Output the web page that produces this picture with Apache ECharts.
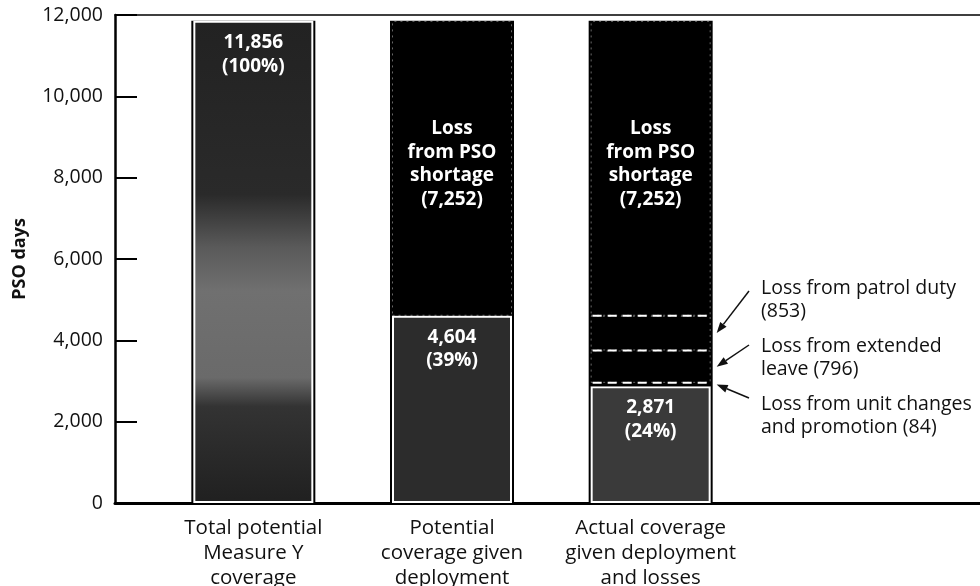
<!DOCTYPE html>
<html><head><meta charset="utf-8">
<script src="https://cdn.jsdelivr.net/npm/echarts@6/dist/echarts.min.js"></script>
<style>html,body{margin:0;padding:0;background:#fff}#c{width:980px;height:586px}</style>
</head><body><div id="c"></div>
<script>
// ---- data ----
const categories = ['Total potential\nMeasure Y\ncoverage', 'Potential\ncoverage given\ndeployment', 'Actual coverage\ngiven deployment\nand losses'];
const coverage = [11856, 4604, 2871];
const lossUnitChanges = [0, 0, 84];
const lossExtendedLeave = [0, 0, 796];
const lossPatrolDuty = [0, 0, 853];
const lossShortage = [0, 7252, 7252];
const yMin = 0, yMax = 12000, yInterval = 2000;
const yName = 'PSO days';
const annotationTexts = ['Loss from patrol duty\n(853)', 'Loss from extended\nleave (796)', 'Loss from unit changes\nand promotion (84)'];

// ---- helpers ----
const FONT = '"Open Sans", "Noto Sans", sans-serif';
const fmt = v => v.toLocaleString('en-US');
const nz = arr => arr.map(v => v === 0 ? '-' : v);
const smallLosses = [lossUnitChanges, lossExtendedLeave, lossPatrolDuty];
const totals = coverage.map((v, i) => v + lossUnitChanges[i] + lossExtendedLeave[i] + lossPatrolDuty[i] + lossShortage[i]);
const grand = totals[0];

// boundaries (tops of the small loss segments) -> dashed separators
const boundaries = [];
coverage.forEach((v, i) => {
  let cum = v;
  smallLosses.forEach(arr => { if (arr[i] > 0) { cum += arr[i]; boundaries.push([i, cum]); } });
});

const chart = echarts.init(document.getElementById('c'), null, {renderer: 'canvas'});

const gridRect = {top: 15, bottom: 83};
const barW = 120, frameW = 124;

const bar1Fill = new echarts.graphic.LinearGradient(0, 0, 0, 1, [
  {offset: 0, color: '#222'}, {offset: 0.36, color: '#2a2a2a'}, {offset: 0.47, color: '#5a5a5a'},
  {offset: 0.56, color: '#707070'}, {offset: 0.74, color: '#6a6a6a'}, {offset: 0.8, color: '#333'},
  {offset: 1, color: '#202020'}
]);
const coverFills = [bar1Fill, '#2c2c2c', '#3a3a3a'];

const lossStyle = {color: '#000', borderColor: 'rgba(255,255,255,0.4)', borderWidth: 1, borderType: [2, 4]};

chart.setOption({
  animation: false,
  backgroundColor: '#fff',
  grid: [
    {left: 115, right: 0, top: gridRect.top, bottom: gridRect.bottom, outerBoundsMode: 'none', containLabel: false},
    {left: 154, width: 596, top: gridRect.top, bottom: gridRect.bottom, outerBoundsMode: 'none', containLabel: false},
    {left: 154, width: 596, top: gridRect.top, bottom: gridRect.bottom, outerBoundsMode: 'none', containLabel: false}
  ],
  xAxis: [
    {gridIndex: 0, type: 'category', data: [''], position: 'bottom',
     axisLine: {lineStyle: {color: '#000', width: 3}}, axisTick: {show: false}, axisLabel: {show: false}},
    {gridIndex: 1, type: 'category', data: categories,
     axisLine: {show: false}, axisTick: {show: false},
     axisLabel: {interval: 0, hideOverlap: false, margin: 13, fontFamily: FONT, fontSize: 20.5, color: '#111', lineHeight: 25}},
    {gridIndex: 2, type: 'category', data: categories, show: false},
    {gridIndex: 0, type: 'category', data: [''], position: 'top',
     axisLine: {lineStyle: {color: '#000', width: 1.5}}, axisTick: {show: false}, axisLabel: {show: false}}
  ],
  yAxis: [
    {gridIndex: 0, type: 'value', min: yMin, max: yMax, interval: yInterval,
     name: yName, nameLocation: 'middle', nameGap: 86, nameRotate: 90,
     nameTextStyle: {fontFamily: FONT, fontSize: 18, fontWeight: 'bold', color: '#111'},
     axisLine: {show: true, lineStyle: {color: '#000', width: 2.5}},
     axisTick: {show: true, inside: true, length: 22, lineStyle: {color: '#000', width: 2}},
     axisLabel: {margin: 12, fontFamily: FONT, fontSize: 19.5, color: '#111', formatter: v => fmt(v)},
     splitLine: {show: false}},
    {gridIndex: 1, type: 'value', min: yMin, max: yMax, interval: yInterval, show: false, splitLine: {show: false}},
    {gridIndex: 2, type: 'value', min: yMin, max: yMax, interval: yInterval, show: false, splitLine: {show: false}}
  ],
  series: [
    {name: 'frame', type: 'bar', xAxisIndex: 2, yAxisIndex: 2, z: 1, barWidth: frameW,
     data: totals, itemStyle: {color: '#000'}, silent: true},
    {name: 'coverage', type: 'bar', stack: 's', xAxisIndex: 1, yAxisIndex: 1, barWidth: barW, z: 3,
     data: coverage.map((v, i) => ({value: v, itemStyle: {color: coverFills[i]}})),
     itemStyle: {borderColor: '#fff', borderWidth: 2},
     label: {show: true, position: 'insideTop', distance: 10, color: '#fff', fontFamily: FONT, fontSize: 19,
       fontWeight: 'bold', lineHeight: 23.5,
       formatter: p => fmt(p.value) + '\n(' + Math.round(p.value / grand * 100) + '%)'}},
    {name: 'unit', type: 'bar', stack: 's', xAxisIndex: 1, yAxisIndex: 1, barWidth: barW, z: 3,
     data: nz(lossUnitChanges), itemStyle: {color: '#000'}},
    {name: 'leave', type: 'bar', stack: 's', xAxisIndex: 1, yAxisIndex: 1, barWidth: barW, z: 3,
     data: nz(lossExtendedLeave), itemStyle: lossStyle},
    {name: 'patrol', type: 'bar', stack: 's', xAxisIndex: 1, yAxisIndex: 1, barWidth: barW, z: 3,
     data: nz(lossPatrolDuty), itemStyle: lossStyle},
    {name: 'shortage', type: 'bar', stack: 's', xAxisIndex: 1, yAxisIndex: 1, barWidth: barW, z: 3,
     data: nz(lossShortage), itemStyle: lossStyle,
     label: {show: true, position: 'inside', offset: [0, -4], color: '#fff', fontFamily: FONT, fontSize: 19,
       fontWeight: 'bold', lineHeight: 23.5,
       formatter: p => 'Loss\nfrom PSO\nshortage\n(' + fmt(p.value) + ')'}},
    {name: 'separators', type: 'custom', xAxisIndex: 1, yAxisIndex: 1, z: 5, silent: true,
     data: boundaries,
     renderItem: (params, api) => {
       const c = api.coord([api.value(0), api.value(1)]);
       const half = barW / 2 - 2;
       return {type: 'line', shape: {x1: c[0] - half, y1: c[1], x2: c[0] + half, y2: c[1]},
         style: {stroke: '#fff', lineWidth: 2, lineDash: [9, 6]}};
     }}
  ]
});

// ---- annotations with arrows pointing at bar-3 loss segments ----
const idx = 2;
const segs = [
  [coverage[idx] + lossUnitChanges[idx] + lossExtendedLeave[idx], coverage[idx] + lossUnitChanges[idx] + lossExtendedLeave[idx] + lossPatrolDuty[idx]],
  [coverage[idx] + lossUnitChanges[idx], coverage[idx] + lossUnitChanges[idx] + lossExtendedLeave[idx]],
  [coverage[idx], coverage[idx] + lossUnitChanges[idx]]
];
const textX = 761;
const textTops = [277, 335, 393];
const tailYs = [291, 345, 398];
const graphics = [];
segs.forEach((s, k) => {
  const mid = (s[0] + s[1]) / 2;
  const p = chart.convertToPixel({xAxisIndex: 1, yAxisIndex: 1}, [idx, mid]);
  const tip = [p[0] + frameW / 2 + 4, p[1]];
  const tail = [749, tailYs[k]];
  const dx = tip[0] - tail[0], dy = tip[1] - tail[1];
  const L = Math.hypot(dx, dy), ux = dx / L, uy = dy / L;
  const hl = 11, hw = 4;
  const base = [tip[0] - ux * hl, tip[1] - uy * hl];
  graphics.push({type: 'line', shape: {x1: tail[0], y1: tail[1], x2: base[0], y2: base[1]},
    style: {stroke: '#111', lineWidth: 1.5}});
  graphics.push({type: 'polygon', shape: {points: [tip, [base[0] - uy * hw, base[1] + ux * hw], [base[0] + uy * hw, base[1] - ux * hw]]},
    style: {fill: '#111'}});
  graphics.push({type: 'text', x: textX, y: textTops[k],
    style: {text: annotationTexts[k], fill: '#111', fontFamily: FONT, fontSize: 19.5, lineHeight: 23, verticalAlign: 'top'}});
});
chart.setOption({graphic: graphics});
</script></body></html>
